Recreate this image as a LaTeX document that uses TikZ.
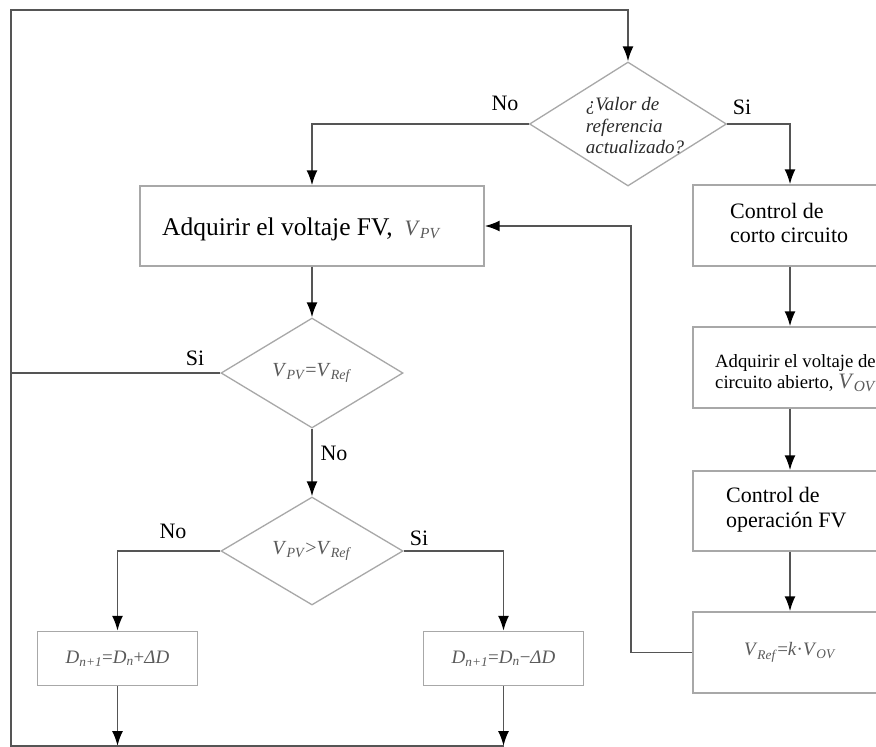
\documentclass[tikz,border=0pt]{standalone}
\usepackage{fontspec}
\setmainfont{Liberation Serif}
\usetikzlibrary{arrows.meta,shapes.geometric}
\definecolor{boxc}{HTML}{A8A8A8}
\definecolor{linec}{HTML}{555555}
\definecolor{mathc}{HTML}{5A5A5A}
\definecolor{qc}{HTML}{2A2A2A}
\newcommand{\vsb}[2]{\textit{#1}\textsubscript{\textit{#2}}}
\begin{document}
\begin{tikzpicture}[x=1pt,y=-1pt,
  box/.style={draw=boxc, line width=1.4pt, rectangle, inner sep=0pt},
  dia/.style={draw=boxc, line width=1.3pt, diamond, inner sep=0pt},
  conn/.style={draw=linec, line width=1.8pt},
  arr/.style={conn, -{Latex[length=15pt,width=11pt,color=black]}},
  lab/.style={font=\fontsize{22}{22}\selectfont, inner sep=0pt},
  mtxt/.style={font=\fontsize{20}{20}\selectfont, text=mathc, inner sep=0pt},
  btxt/.style={inner sep=0pt, align=left, anchor=west}]
\useasboundingbox (0,0) rectangle (876,747);
\clip (0,0) rectangle (876,747);
\fill[white] (0,0) rectangle (876,747);

\coordinate (lt) at (11,10);
\coordinate (lb) at (11,746);
\coordinate (jx) at (631,0);

% decisions
\node[dia, minimum width=197pt, minimum height=124pt] (d1) at (628,124) {};
\node[inner sep=0pt, align=left, text=qc, font=\fontsize{19}{21.5}\selectfont\itshape] (t1) at (635,126) {¿Valor de\\referencia\\actualizado?};
\node[dia, minimum width=182pt, minimum height=110pt] (d2) at (312,373) {};
\node[mtxt] (t2) at (d2) {\vsb{V}{PV}=\vsb{V}{Ref}};
\node[dia, minimum width=182pt, minimum height=108pt] (d3) at (312,551) {};
\node[mtxt] (t3) at (d3) {\vsb{V}{PV}>\vsb{V}{Ref}};

% boxes
\node[box, minimum width=344pt, minimum height=80pt] (b1) at (312,226) {};
\node[inner sep=0pt, anchor=base west, font=\fontsize{25.5}{25.5}\selectfont] (tb1) at (162,235) {Adquirir el voltaje FV,\hspace{12pt}{\color{mathc}\fontsize{22}{22}\selectfont\vsb{V}{PV}}};

\node[box, minimum width=194pt, minimum height=81pt] (r1) at (790,225.5) {};
\node[btxt, font=\fontsize{22}{24}\selectfont] (tr1) at (730,222.5) {Control de\\corto circuito};

\node[box, minimum width=194pt, minimum height=81pt] (r2) at (790,367.5) {};
\node[btxt, font=\fontsize{18.7}{20.5}\selectfont] (tr2) at (715,373) {Adquirir el voltaje de\\circuito abierto, {\color{mathc}\fontsize{22}{22}\selectfont\vsb{V}{OV}}};

\node[box, minimum width=194pt, minimum height=80pt] (r3) at (790,511) {};
\node[btxt, font=\fontsize{22}{25}\selectfont] (tr3) at (726,509.5) {Control de\\operación FV};

\node[box, minimum width=194pt, minimum height=81pt, text=mathc, font=\fontsize{19}{19}\selectfont] (r4) at (790,652.5) {\vsb{V}{Ref}=\textit{k}·\vsb{V}{OV}};

\node[box, minimum width=160pt, minimum height=54pt, text=mathc, font=\fontsize{19}{19}\selectfont] (dp) at (117.5,658.5) {\vsb{D}{n+1}=\vsb{D}{n}+\textit{ΔD}};
\node[box, minimum width=160pt, minimum height=54pt, text=mathc, font=\fontsize{19}{19}\selectfont] (dm) at (503.5,658.5) {\vsb{D}{n+1}=\vsb{D}{n}−\textit{ΔD}};

% connectors
\draw[arr] (d1.west) -| (b1.north);
\draw[arr] (d1.east) -| (r1.north);
\draw[arr] (b1.south) -- (d2.north);
\draw[arr] (r1.south) -- (r2.north);
\draw[arr] (r2.south) -- (r3.north);
\draw[arr] (r3.south) -- (r4.north);
\draw[arr] (r4.west) -- (r4.west -| jx) |- (b1.east);
\draw[arr] (d2.south) -- (d3.north);
\draw[arr] (d3.west) -| (dp.north);
\draw[arr] (d3.east) -| (dm.north);
\draw[arr] (dp.south) -- (dp.south |- lb);
\draw[arr] (dm.south) -- (dm.south |- lb);
\draw[conn] (d2.west) -- (d2.west -| lt);
\draw[arr] (dm.south |- lb) -- (lb) -- (lt) -| (d1.north);

% labels
\node[lab] (l1) at (505,103) {No};
\node[lab] (l2) at (742,107) {Si};
\node[lab] (l3) at (195,358) {Si};
\node[lab] (l4) at (334,453) {No};
\node[lab] (l5) at (173,531) {No};
\node[lab] (l6) at (419,538) {Si};
\end{tikzpicture}
\end{document}
